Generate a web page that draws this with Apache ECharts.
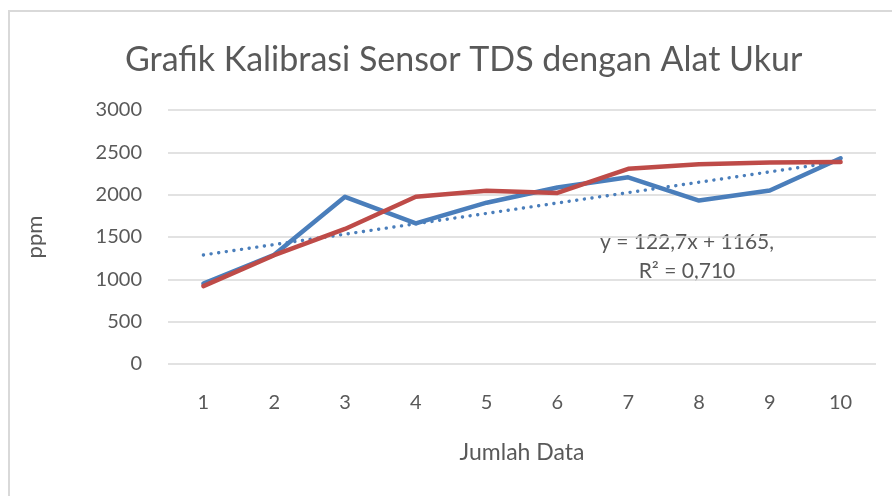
<!DOCTYPE html>
<html>
<head>
<meta charset="utf-8">
<script src="https://cdn.jsdelivr.net/npm/echarts@6/dist/echarts.min.js"></script>
<style>
html,body{margin:0;padding:0;background:#fff;}
#chart{width:892px;height:496px;}
</style>
</head>
<body>
<div id="chart"></div>
<script>
const categories = ['1','2','3','4','5','6','7','8','9','10'];
const sensorValues = [950, 1290, 1975, 1660, 1905, 2085, 2205, 1930, 2050, 2430];
const alatUkurValues = [920, 1285, 1595, 1975, 2045, 2020, 2305, 2360, 2380, 2385];
const trendStartEnd = [1287.7, 2392];
const yTicks = [0, 500, 1000, 1500, 2000, 2500, 3000];
const titleText = 'Grafik Kalibrasi Sensor TDS dengan Alat Ukur';
const equationLines = ['y = 122,7x + 1165,', 'R² = 0,710'];

const FONT = 'Lato';
const TXT = '#595959';
const chart = echarts.init(document.getElementById('chart'), null, {renderer: 'canvas'});
chart.setOption({
  animation: false,
  backgroundColor: '#ffffff',
  textStyle: {fontFamily: FONT},
  title: {
    text: titleText,
    left: 120,
    top: 38,
    textStyle: {fontFamily: FONT, fontSize: 34, fontWeight: 'normal', color: TXT}
  },
  grid: {left: 168, right: 16, top: 110, bottom: 132, containLabel: false},
  xAxis: {
    type: 'category',
    data: categories,
    boundaryGap: true,
    name: 'Jumlah Data',
    nameLocation: 'middle',
    nameGap: 77,
    nameTextStyle: {fontFamily: FONT, fontSize: 23, color: TXT},
    axisLine: {show: false},
    axisTick: {show: false},
    axisLabel: {fontFamily: FONT, fontSize: 20, color: TXT, margin: 29}
  },
  yAxis: {
    type: 'value',
    min: yTicks[0],
    max: yTicks[yTicks.length - 1],
    interval: yTicks[1] - yTicks[0],
    name: 'ppm',
    nameLocation: 'middle',
    nameGap: 122,
    nameRotate: 90,
    nameTextStyle: {fontFamily: FONT, fontSize: 22, color: TXT},
    axisLine: {show: false},
    axisTick: {show: false},
    axisLabel: {fontFamily: FONT, fontSize: 20, color: TXT, margin: 26, formatter: v => String(v)},
    splitLine: {lineStyle: {color: '#d9d9d9', width: 1.5}}
  },
  graphic: [
    {type: 'rect', silent: true, z: -1,
     shape: {x: 9, y: 11, width: 900, height: 500},
     style: {fill: 'none', stroke: '#d9d9d9', lineWidth: 2}},
    {type: 'text', x: 687, y: 257,
     style: {text: equationLines.join('\n'), fontFamily: FONT, fontSize: 21, fill: TXT,
             align: 'center', verticalAlign: 'middle', lineHeight: 29}}
  ],
  series: [
    {name: 'Sensor', type: 'line', data: sensorValues, symbol: 'none',
     lineStyle: {color: '#4a7ebb', width: 4.5, cap: 'round', join: 'round'}, z: 2},
    {name: 'Trend', type: 'line', data: [[0, trendStartEnd[0]], [9, trendStartEnd[1]]], symbol: 'none',
     lineStyle: {color: '#4a7ebb', width: 3.4, type: [0.1, 7.6], cap: 'round'}, z: 3},
    {name: 'Alat Ukur', type: 'line', data: alatUkurValues, symbol: 'none',
     lineStyle: {color: '#be4b48', width: 4.5, cap: 'round', join: 'round'}, z: 4}
  ]
});
</script>
</body>
</html>
